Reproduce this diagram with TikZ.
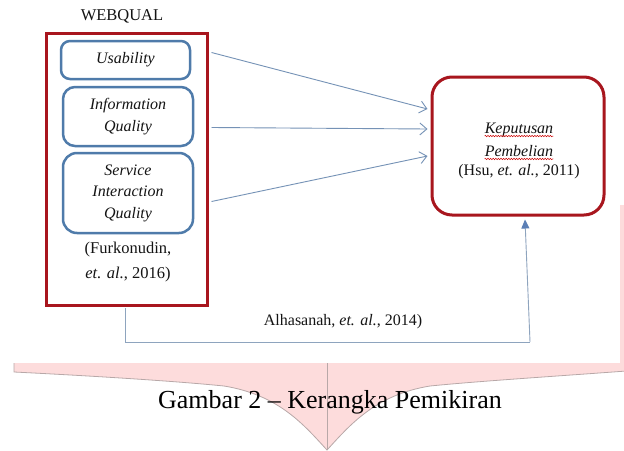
\documentclass[tikz,border=0pt]{standalone}
\usepackage{fontspec}
\setmainfont{Liberation Serif}
\usetikzlibrary{arrows.meta,calc,decorations.pathmorphing}
\definecolor{wqred}{HTML}{A8161E}
\definecolor{bxblue}{HTML}{4F7BAA}
\definecolor{arrblue}{HTML}{7592B6}
\definecolor{lnblue}{HTML}{8EA4BE}
\definecolor{tipblue}{HTML}{5B7FB6}
\definecolor{bracepink}{HTML}{FDDCDC}
\definecolor{bracegray}{HTML}{B8A8A8}
\begin{document}
\begin{tikzpicture}[x=1pt,y=-1pt,
  txt/.style={font=\fontsize{16}{21.5}\selectfont, align=center, text=black!92, inner sep=0pt},
  inbox/.style={draw=bxblue, line width=2.5pt, txt, font=\fontsize{16}{21.5}\selectfont\itshape},
  redbox/.style={draw=wqred, line width=3pt},
  arr/.style={draw=arrblue, line width=0.9pt, -{Straight Barb[length=7pt,width=12pt,line width=0.9pt]}},
  conn/.style={draw=lnblue, line width=0.9pt},
  squig/.style={draw=red!80!black, line width=0.5pt, decorate, decoration={snake, amplitude=0.7pt, segment length=2.6pt}}
]
\useasboundingbox (0,0) rectangle (624,450);
% pink brace behind the canvas
\fill[bracepink] (14,363) -- (14,372) .. controls (94,376) and (174,381) .. (224,386)
  .. controls (279,395) and (304,425) .. (327,450)
  .. controls (350,425) and (375,395) .. (430,386)
  .. controls (480,381) and (560,376) .. (640,370) -- (640,205) -- (14,205) -- cycle;
\draw[bracegray, line width=0.8pt] (14,363) -- (14,372) .. controls (94,376) and (174,381) .. (224,386)
  .. controls (279,395) and (304,425) .. (327,450)
  .. controls (350,425) and (375,395) .. (430,386)
  .. controls (480,381) and (560,376) .. (640,370);
\draw[bracegray, line width=0.8pt] (327,363) -- (327,450);
\fill[white] (0,0) rectangle (620,363);

% WEBQUAL group
\node[txt, font=\fontsize{16.5}{20}\selectfont] (wqlabel) at (122,16) {WEBQUAL};
\node[redbox, minimum width=161pt, minimum height=272pt] (wq) at (126.5,169) {};
\node[inbox, rounded corners=9pt, minimum width=129pt, minimum height=38pt] (us) at (125.5,60) {Usability};
\node[inbox, rounded corners=12pt, minimum width=130pt, minimum height=59pt] (iq) at (128,116.5) {Information\\Quality};
\node[inbox, rounded corners=14pt, minimum width=130pt, minimum height=80pt] (siq) at (128,193) {Service\\Interaction\\Quality};
\node[txt, font=\fontsize{16.5}{25}\selectfont] (furk) at (128,262) {(Furkonudin,\\\textit{et. al.}, 2016)};

% Keputusan Pembelian
\node[redbox, rounded corners=20pt, minimum width=172pt, minimum height=138pt] (kp) at (518,146) {};
\node[txt, font=\fontsize{16}{20}\selectfont\itshape] (k1) at (519,130) {Keputusan};
\node[txt, font=\fontsize{16}{20}\selectfont\itshape] (k2) at (519,151) {Pembelian};
\node[txt] (k3) at (519,172) {(Hsu, \textit{et. al.}, 2011)};
\draw[squig] ([yshift=-2.5pt]k1.base west) -- ([yshift=-2.5pt]k1.base east);
\draw[squig] ([yshift=-2.5pt]k2.base west) -- ([yshift=-2.5pt]k2.base east);

% arrows
\draw[arr] ($(wq.north east)+(3,21)$) -- ($(kp.west)+(-3,-37)$);
\draw[arr] ($(wq.north east)+(3,96)$) -- ($(kp.west)+(-3,-17)$);
\draw[arr] ($(wq.north east)+(3,170)$) -- ($(kp.west)+(-3,10)$);

% bottom connector
\coordinate (c1) at (125,342);
\coordinate (c2) at (530,342);
\draw[conn] ([yshift=-1.5pt]wq.south -| c1) -- (c1) -- (c2);
\draw[conn, -{Triangle[length=9pt,width=8pt,color=tipblue]}] (c2) -- ($(kp.south)+(7,3)$);
\node[txt] (alh) at (343,322) {Alhasanah, \textit{et. al.}, 2014)};

% caption
\node[txt, font=\fontsize{26}{30}\selectfont, text=black, anchor=base] (cap) at (330,408) {Gambar 2 -- Kerangka Pemikiran};
\end{tikzpicture}
\end{document}
